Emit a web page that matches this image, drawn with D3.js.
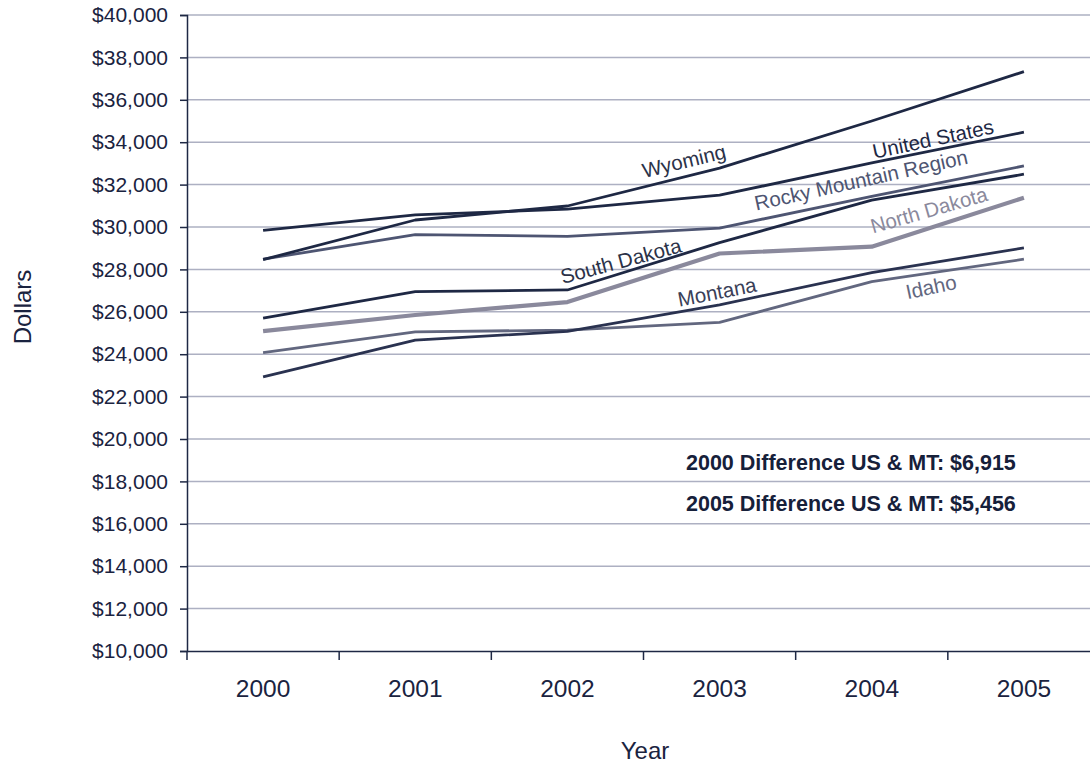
<!DOCTYPE html>
<html>
<head>
<meta charset="utf-8">
<script src="https://cdn.jsdelivr.net/npm/d3@7"></script>
<style>
  body { margin: 0; background: #fff; }
  svg { display: block; font-family: "Liberation Sans", Arial, sans-serif; }
</style>
</head>
<body>
<svg id="chart" width="1090" height="763"></svg>
<script>
const years = ["2000", "2001", "2002", "2003", "2004", "2005"];
const yTicks = [10000, 12000, 14000, 16000, 18000, 20000, 22000, 24000, 26000, 28000, 30000, 32000, 34000, 36000, 38000, 40000];

const wyoming      = [28460, 30330, 30990, 32780, 35000, 37330];
const unitedStates = [29845, 30570, 30840, 31500, 33020, 34471];
const rockyMtn     = [28480, 29640, 29560, 29950, 31450, 32880];
const southDakota  = [25700, 26950, 27030, 29260, 31270, 32490];
const northDakota  = [25090, 25850, 26460, 28750, 29070, 31380];
const idaho        = [24070, 25050, 25140, 25500, 27420, 28480];
const montana      = [22930, 24660, 25080, 26330, 27850, 29015];

const seriesNames = ["Idaho", "Montana", "North Dakota", "South Dakota", "Rocky Mountain Region", "United States", "Wyoming"];
const seriesData  = [idaho, montana, northDakota, southDakota, rockyMtn, unitedStates, wyoming];

const notes = ["2000 Difference US & MT: $6,915", "2005 Difference US & MT: $5,456"];

const styles = {
  "Wyoming":               {stroke: "#1e2844", width: 2.8, label: "#2b3248", lx: 684, ly: 161, rot: -13.5},
  "United States":         {stroke: "#1e2844", width: 2.8, label: "#1e2844", lx: 933, ly: 139, rot: -12},
  "Rocky Mountain Region": {stroke: "#4e5572", width: 2.8, label: "#4e5572", lx: 861, ly: 180, rot: -12.5},
  "South Dakota":          {stroke: "#1e2844", width: 2.8, label: "#2b3248", lx: 621, ly: 261, rot: -15},
  "North Dakota":          {stroke: "#8a899c", width: 4.2, label: "#8a899c", lx: 929, ly: 210, rot: -16},
  "Montana":               {stroke: "#2a3250", width: 2.8, label: "#3a4058", lx: 717, ly: 292, rot: -11},
  "Idaho":                 {stroke: "#62677f", width: 2.8, label: "#62677f", lx: 931, ly: 287, rot: -12}
};

const svg = d3.select("#chart");
const mLeft = 187, mTop = 15, mBottom = 651, mRight = 1100;

const x = d3.scaleBand().domain(years).range([mLeft, mRight]).padding(0);
const y = d3.scaleLinear().domain([10000, 40000]).range([mBottom, mTop]);

// grid lines
svg.append("g").selectAll("line").data(yTicks.filter(d => d > 10000)).join("line")
  .attr("x1", mLeft).attr("x2", 1090)
  .attr("y1", d => y(d)).attr("y2", d => y(d))
  .attr("stroke", "#adb0c2").attr("stroke-width", 1.5);

// y axis
const yAxis = svg.append("g").attr("transform", `translate(${mLeft},0)`)
  .call(d3.axisLeft(y).tickValues(yTicks).tickSize(7).tickFormat(d => "$" + d3.format(",")(d)));
yAxis.select(".domain").attr("stroke", "#1e2844").attr("stroke-width", 1.5);
yAxis.selectAll(".tick line").attr("stroke", "#1e2844").attr("stroke-width", 1.5);
yAxis.selectAll("text").attr("font-size", 21).attr("fill", "#1a2340").attr("x", -19)
  .attr("font-family", "Liberation Sans, Arial, sans-serif");

// x axis
const xAxis = svg.append("g").attr("transform", `translate(0,${mBottom})`)
  .call(d3.axisBottom(x).tickSize(0).tickPadding(0));
xAxis.select(".domain").attr("stroke", "#1e2844").attr("stroke-width", 1.5);
xAxis.selectAll("text").attr("font-size", 24.5).attr("fill", "#1a2340").attr("dy", "0").attr("y", 46)
  .attr("font-family", "Liberation Sans, Arial, sans-serif");
// category boundary ticks
const bounds = years.map(yr => x(yr)).concat([x(years[years.length - 1]) + x.bandwidth()]);
svg.append("g").selectAll("line").data(bounds).join("line")
  .attr("x1", d => d).attr("x2", d => d)
  .attr("y1", mBottom).attr("y2", mBottom + 9)
  .attr("stroke", "#1e2844").attr("stroke-width", 1.5);

// lines
const line = d3.line().x((d, i) => x(years[i]) + x.bandwidth() / 2).y(d => y(d));
svg.append("g").selectAll("path").data(seriesNames).join("path")
  .attr("d", (n, i) => line(seriesData[i]))
  .attr("fill", "none")
  .attr("stroke", n => styles[n].stroke)
  .attr("stroke-width", n => styles[n].width)
  .attr("stroke-linejoin", "round");

// line labels
svg.append("g").selectAll("text").data(seriesNames).join("text")
  .attr("transform", n => `translate(${styles[n].lx},${styles[n].ly}) rotate(${styles[n].rot})`)
  .attr("text-anchor", "middle")
  .attr("dy", "0.35em")
  .attr("font-size", 20.5)
  .attr("fill", n => styles[n].label)
  .text(n => n);

// notes
svg.append("g").selectAll("text").data(notes).join("text")
  .attr("x", 686).attr("y", (d, i) => 470 + i * 41)
  .attr("font-size", 21.5).attr("font-weight", "bold").attr("fill", "#16203a")
  .text(d => d);

// axis titles
svg.append("text").attr("x", 645).attr("y", 759).attr("text-anchor", "middle")
  .attr("font-size", 24).attr("fill", "#1a2340").text("Year");
svg.append("text").attr("transform", "translate(31,307) rotate(-90)").attr("text-anchor", "middle")
  .attr("font-size", 24).attr("fill", "#1a2340").text("Dollars");
</script>
</body>
</html>
